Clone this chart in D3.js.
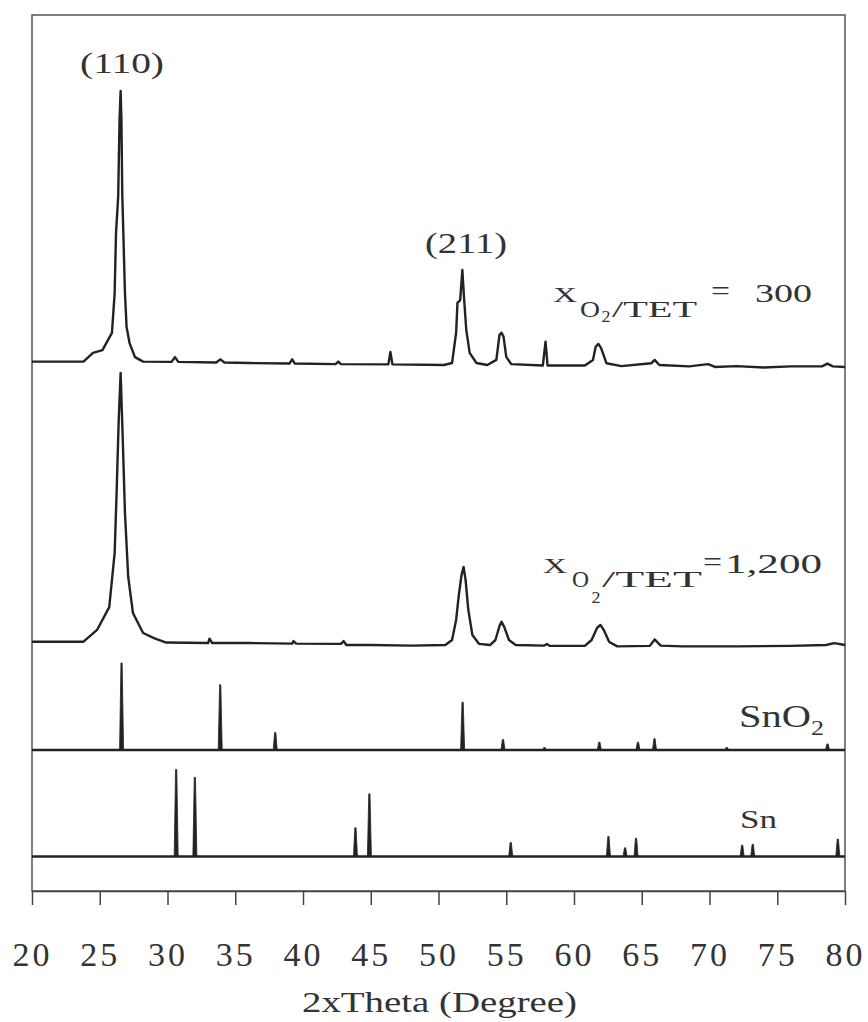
<!DOCTYPE html>
<html lang="en">
<head>
    <meta charset="UTF-8">
    <title>XRD patterns</title>
    <script src="https://d3js.org/d3.v7.min.js"></script>
    <style>
        body { margin: 0; background: #fff; }
        text { font-family: "Liberation Serif", "DejaVu Serif", serif; fill: #333; }
    </style>
</head>
<body>
    <script>
        const w = 868;
        const h = 1022;

        // measured pattern, X(O2/TET) = 300 : 2theta (deg) and intensity (a.u.)
        const theta300 = [20, 23.8, 24.5, 25.2, 25.9, 26.1, 26.2, 26.36, 26.46, 26.54, 26.6, 26.66, 26.74, 26.86, 26.98, 27.2, 27.6, 28.2,
            30.3, 30.55, 30.8, 33.6, 33.9, 34.2, 36, 39.0, 39.2, 39.4, 42.4, 42.6, 42.8, 46.3, 46.45, 46.6,
            50.4, 51.0, 51.3, 51.4, 51.6, 51.76, 51.88, 52.05, 52.3, 52.8, 53.6, 54.27, 54.5, 54.64, 54.8, 55.0, 55.37,
            57.7, 57.9, 58.05, 60.8, 61.4, 61.6, 61.8, 62.0, 62.4, 63.5, 65.7, 65.95, 66.3, 68.5, 69.9, 70.4, 72, 74, 76, 78.3, 78.7, 79.1, 80];
        const int300 = [37, 37, 68, 78, 139, 281, 495, 623, 897, 1000, 897, 637, 495, 281, 160, 103, 53, 37,
            36, 53, 36, 34, 45, 34, 32, 30, 45, 30, 28, 37, 28, 27, 71, 27,
            25, 32, 139, 246, 256, 363, 267, 150, 68, 32, 25, 43, 132, 140, 126, 54, 28,
            23, 108, 23, 23, 43, 90, 100, 85, 31, 21, 31, 43, 25, 20, 28, 18, 21, 16, 20, 20, 30, 20, 18];

        // measured pattern, X(O2/TET) = 1,200
        const theta1200 = [20, 23.8, 24.1, 24.8, 25.7, 26.1, 26.25, 26.4, 26.54, 26.7, 26.86, 27.1, 27.45, 28.2, 29.0, 29.9,
            33.0, 33.1, 33.3, 36, 39.2, 39.3, 39.5, 42.8, 43.0, 43.2, 45, 48, 50.5, 51.0, 51.3, 51.5, 51.7, 51.85, 52.0, 52.2, 52.5,
            53.0, 53.8, 54.2, 54.5, 54.65, 54.85, 55.2, 55.7, 57.8, 58.0, 58.2, 60.8, 61.3, 61.7, 61.95, 62.2, 62.6, 63.2,
            65.6, 65.95, 66.4, 68, 72, 76, 78.6, 79.2, 80];
        const int1200 = [37, 37, 50, 79, 161, 355, 581, 832, 1000, 760, 498, 269, 140, 68, 50, 34,
            32, 48, 32, 32, 30, 39, 30, 29, 39, 25, 25, 23, 25, 43, 115, 204, 276, 305, 258, 151, 61,
            29, 25, 43, 93, 108, 90, 43, 25, 23, 29, 22, 22, 43, 86, 97, 79, 36, 20,
            22, 45, 23, 20, 20, 22, 25, 32, 25];

        // reference lines (relative intensity)
        const sno2Theta = [26.61, 33.89, 37.95, 51.78, 54.76, 57.82, 61.87, 64.72, 65.94, 71.28, 78.71];
        const sno2Int = [100, 75, 20, 55, 12, 3, 9, 9, 13, 3, 7];
        const snTheta = [30.64, 32.02, 43.87, 44.90, 55.33, 62.54, 63.77, 64.58, 72.41, 73.19, 79.47];
        const snInt = [100, 91, 33, 72, 16, 23, 10, 21, 13, 14, 20];

        const xTicks = d3.range(20, 81, 5);

        const svg = d3.select("body")
                      .append("svg")
                      .attr("width", w)
                      .attr("height", h);

        const padLeft = 32, padRight = 845, padTop = 15, padBottom = 891;

        const xScale = d3.scaleLinear().domain([20, 80]).range([padLeft, padRight]);
        const yTop = d3.scaleLinear().domain([0, 1000]).range([372, 91]);
        const yMid = d3.scaleLinear().domain([0, 1000]).range([652, 373]);
        const ySnO2 = d3.scaleLinear().domain([0, 100]).range([750, 663]);
        const ySn = d3.scaleLinear().domain([0, 100]).range([856.5, 769.5]);

        // frame
        svg.append("rect")
           .attr("x", padLeft).attr("y", padTop)
           .attr("width", padRight - padLeft).attr("height", padBottom - padTop)
           .attr("fill", "none").attr("stroke", "#555").attr("stroke-width", 1.5);

        // x axis
        const xAxis = d3.axisBottom(xScale).tickValues(xTicks).tickSize(14).tickSizeOuter(0);
        const gx = svg.append("g")
           .attr("transform", `translate(0, ${padBottom})`)
           .call(xAxis);
        gx.select(".domain").attr("stroke", "#444").attr("stroke-width", 1.5);
        gx.selectAll(".tick line").attr("stroke", "#444").attr("stroke-width", 1.5);
        gx.selectAll(".tick text")
          .attr("y", 75).attr("dy", 0)
          .attr("font-size", 34)
          .attr("letter-spacing", 3)
          .attr("fill", "#333");

        svg.append("text")
           .attr("x", 302).attr("y", 1012)
           .attr("font-size", 30)
           .attr("textLength", 275).attr("lengthAdjust", "spacingAndGlyphs")
           .text("2xTheta (Degree)");

        // patterns
        const drawPattern = (thetas, ints, yScale) => {
            const pts = thetas.map((t, i) => [t, ints[i]]);
            const line = d3.line().x(d => xScale(d[0])).y(d => yScale(d[1]));
            svg.append("path")
               .datum(pts)
               .attr("d", line)
               .attr("fill", "none")
               .attr("stroke", "#222")
               .attr("stroke-width", 2.4)
               .attr("stroke-linejoin", "round");
        };
        drawPattern(theta300, int300, yTop);
        drawPattern(theta1200, int1200, yMid);

        // reference sticks
        const drawSticks = (thetas, ints, yScale) => {
            svg.append("line")
               .attr("x1", padLeft).attr("x2", padRight)
               .attr("y1", yScale(0)).attr("y2", yScale(0))
               .attr("stroke", "#222").attr("stroke-width", 2.5);
            svg.selectAll(null)
               .data(thetas.map((t, i) => [t, ints[i]]))
               .enter()
               .append("path")
               .attr("d", d => {
                   const x0 = xScale(d[0]);
                   const y0 = yScale(0), y1 = yScale(d[1]);
                   return `M${x0 - 2},${y0} L${x0 - 0.6},${y1} L${x0 + 0.6},${y1} L${x0 + 2},${y0} Z`;
               })
               .attr("fill", "#222")
               .attr("stroke", "#222")
               .attr("stroke-width", 0.8);
        };
        drawSticks(sno2Theta, sno2Int, ySnO2);
        drawSticks(snTheta, snInt, ySn);

        // labels: [text, x, baseline y, size, width]
        const addText = (parts) => {
            parts.forEach(p => {
                svg.append("text")
                   .attr("x", p[1]).attr("y", p[2])
                   .attr("font-size", p[3])
                   .attr("textLength", p[4]).attr("lengthAdjust", "spacingAndGlyphs")
                   .text(p[0]);
            });
        };

        addText([["(110)", 80, 73, 30, 84]]);
        addText([["(211)", 425, 253, 30, 82]]);

        addText([
            ["X", 553, 301.7, 21, 24],
            ["O", 580, 316.7, 24, 20],
            ["2", 601.5, 322, 16, 9],
            ["/TET", 612, 316.7, 24, 85],
            ["=", 711, 300, 28, 19],
            ["300", 755, 301.7, 25, 57]
        ]);

        addText([
            ["X", 543, 573, 22, 24],
            ["O", 572, 587, 23, 17],
            ["2", 591.5, 603, 16, 9],
            ["/TET", 602, 587, 23, 100],
            ["=", 703, 571, 28, 19],
            ["1,200", 725, 573, 27, 97]
        ]);

        addText([
            ["SnO", 739, 726.7, 32, 72],
            ["2", 811, 735, 20, 13]
        ]);
        addText([["Sn", 740, 828, 25, 37]]);
    </script>
</body>
</html>
